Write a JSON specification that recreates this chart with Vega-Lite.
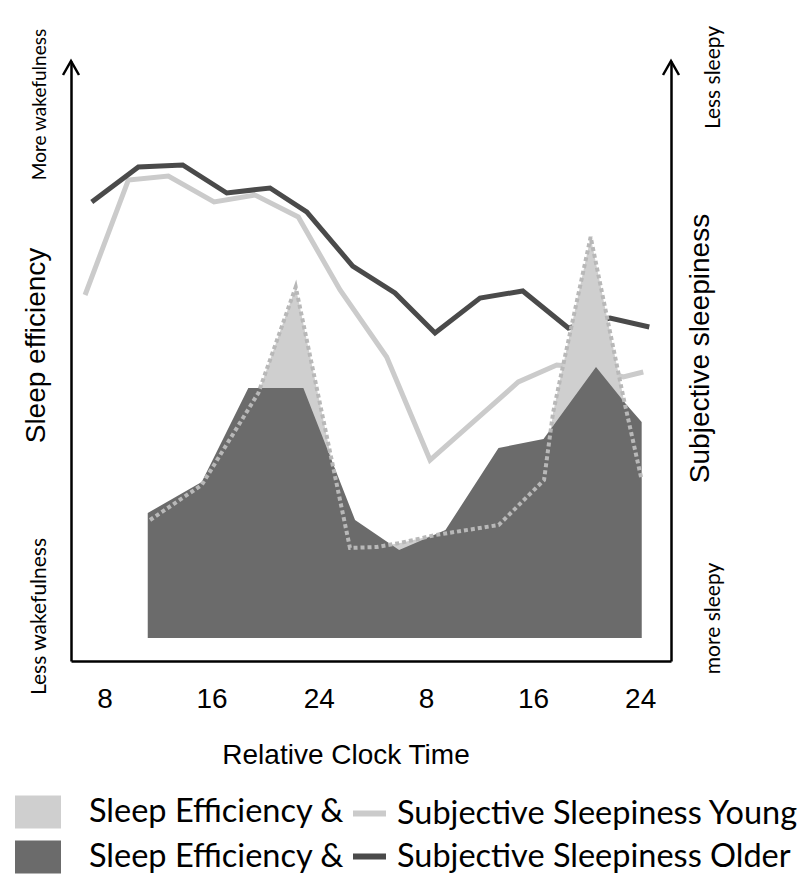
{
  "$schema": "https://vega.github.io/schema/vega-lite/v6.json",
  "autosize": {"type": "none"},
  "width": 600,
  "height": 600,
  "padding": {"left": 71, "top": 61, "right": 141, "bottom": 222},
  "background": "white",
  "datasets": {
    "efficiency": [
      {"group": "Young", "hour": 11.4, "eff": 141},
      {"group": "Young", "hour": 15.26, "eff": 176},
      {"group": "Young", "hour": 19.49, "eff": 268},
      {"group": "Young", "hour": 22.28, "eff": 374},
      {"group": "Young", "hour": 26.33, "eff": 113},
      {"group": "Young", "hour": 28.33, "eff": 114},
      {"group": "Young", "hour": 30.07, "eff": 118},
      {"group": "Young", "hour": 32.72, "eff": 126},
      {"group": "Young", "hour": 37.44, "eff": 136},
      {"group": "Young", "hour": 40.82, "eff": 181},
      {"group": "Young", "hour": 41.49, "eff": 248},
      {"group": "Young", "hour": 42.01, "eff": 281},
      {"group": "Young", "hour": 44.3, "eff": 424},
      {"group": "Young", "hour": 46.74, "eff": 264},
      {"group": "Young", "hour": 48.11, "eff": 181},
      {"group": "Older", "hour": 11.23, "eff": 148},
      {"group": "Older", "hour": 15.26, "eff": 179},
      {"group": "Older", "hour": 18.74, "eff": 273},
      {"group": "Older", "hour": 22.85, "eff": 273},
      {"group": "Older", "hour": 26.71, "eff": 141},
      {"group": "Older", "hour": 30.0, "eff": 111},
      {"group": "Older", "hour": 33.46, "eff": 131},
      {"group": "Older", "hour": 37.42, "eff": 213},
      {"group": "Older", "hour": 40.78, "eff": 222},
      {"group": "Older", "hour": 44.7, "eff": 294},
      {"group": "Older", "hour": 46.87, "eff": 258},
      {"group": "Older", "hour": 48.11, "eff": 239}
    ],
    "sleepiness": [
      {"cohort": "young", "hour": 6.55, "sleepiness": 366},
      {"cohort": "young", "hour": 9.78, "sleepiness": 481},
      {"cohort": "young", "hour": 12.77, "sleepiness": 485},
      {"cohort": "young", "hour": 16.18, "sleepiness": 459},
      {"cohort": "young", "hour": 19.24, "sleepiness": 466},
      {"cohort": "young", "hour": 22.47, "sleepiness": 444},
      {"cohort": "young", "hour": 25.59, "sleepiness": 371},
      {"cohort": "young", "hour": 29.07, "sleepiness": 304},
      {"cohort": "young", "hour": 32.31, "sleepiness": 201},
      {"cohort": "young", "hour": 38.9, "sleepiness": 279},
      {"cohort": "young", "hour": 41.77, "sleepiness": 296},
      {"cohort": "young", "hour": 44.25, "sleepiness": 293},
      {"cohort": "young", "hour": 46.74, "sleepiness": 284},
      {"cohort": "young", "hour": 48.23, "sleepiness": 289},
      {"cohort": "older", "hour": 7.05, "sleepiness": 459},
      {"cohort": "older", "hour": 10.53, "sleepiness": 494},
      {"cohort": "older", "hour": 13.84, "sleepiness": 496},
      {"cohort": "older", "hour": 17.13, "sleepiness": 468},
      {"cohort": "older", "hour": 20.36, "sleepiness": 473},
      {"cohort": "older", "hour": 23.1, "sleepiness": 449},
      {"cohort": "older", "hour": 26.53, "sleepiness": 395},
      {"cohort": "older", "hour": 29.69, "sleepiness": 368},
      {"cohort": "older", "hour": 32.68, "sleepiness": 328},
      {"cohort": "older", "hour": 36.04, "sleepiness": 363},
      {"cohort": "older", "hour": 39.23, "sleepiness": 370},
      {"cohort": "older", "hour": 42.63, "sleepiness": 333},
      {"cohort": "older", "hour": 45.75, "sleepiness": 343},
      {"cohort": "older", "hour": 48.68, "sleepiness": 334}
    ],
    "axisEnds": [
      {"hour": 5.5},
      {"hour": 50.3}
    ]
  },
  "config": {
    "view": {"stroke": null},
    "axis": {
      "grid": false,
      "ticks": false,
      "domainColor": "black",
      "domainWidth": 2.5,
      "labelColor": "black",
      "titleColor": "black",
      "titleFontWeight": "normal",
      "labelOverlap": false,
      "labelFlush": false
    }
  },
  "layer": [
    {
      "data": {"name": "sleepiness"},
      "mark": {"type": "line", "strokeWidth": 5},
      "encoding": {
        "x": {
          "field": "hour",
          "type": "quantitative",
          "scale": {"domain": [5.5, 50.3], "nice": false, "zero": false},
          "axis": {
            "values": [8, 16, 24, 32, 40, 48],
            "labelExpr": "'' + (datum.value > 24 ? datum.value - 24 : datum.value)",
            "labelFont": "Liberation Sans",
            "labelFontSize": 28,
            "labelPadding": 24,
            "title": "Relative Clock Time",
            "titleFont": "Liberation Sans",
            "titleFontSize": 28,
            "titleX": 274.5,
            "titleY": 94,
            "titleAlign": "center",
            "titleBaseline": "middle"
          }
        },
        "y": {
          "field": "sleepiness",
          "type": "quantitative",
          "scale": {"domain": [0, 600], "nice": false},
          "axis": {
            "orient": "right",
            "values": [43, 584],
            "labelExpr": "datum.value > 300 ? 'Less sleepy' : 'more sleepy'",
            "labelAngle": 270,
            "labelAlign": "center",
            "labelBaseline": "alphabetic",
            "labelPadding": 48,
            "labelFont": "Lato",
            "labelFontSize": 21,
            "title": "Subjective sleepiness",
            "titleFont": "Liberation Sans",
            "titleFontSize": 28,
            "titleAngle": 270,
            "titleX": 29,
            "titleY": 287,
            "titleAlign": "center",
            "titleBaseline": "middle"
          }
        },
        "stroke": {
          "field": "cohort",
          "type": "nominal",
          "scale": {"domain": ["young", "older"], "range": ["#cbcbcb", "#4a4a4a"]},
          "legend": {
            "orient": "none",
            "legendX": 279,
            "legendY": 733,
            "title": null,
            "padding": 0,
            "symbolType": "stroke",
            "symbolSize": 1089,
            "symbolStrokeWidth": 6,
            "labelExpr": "datum.label == 'young' ? 'Subjective Sleepiness Young' : 'Subjective Sleepiness Older'",
            "labelFont": "Lato",
            "labelFontSize": 32.5,
            "labelColor": "black",
            "labelOffset": 8,
            "labelLimit": 600,
            "rowPadding": 7
          }
        }
      }
    },
    {
      "data": {"name": "efficiency"},
      "encoding": {
        "x": {
          "field": "hour",
          "type": "quantitative",
          "scale": {"domain": [5.5, 50.3], "nice": false, "zero": false},
          "axis": {
            "values": [8, 16, 24, 32, 40, 48],
            "labelExpr": "'' + (datum.value > 24 ? datum.value - 24 : datum.value)",
            "labelFont": "Liberation Sans",
            "labelFontSize": 28,
            "labelPadding": 24,
            "title": "Relative Clock Time",
            "titleFont": "Liberation Sans",
            "titleFontSize": 28,
            "titleX": 274.5,
            "titleY": 94,
            "titleAlign": "center",
            "titleBaseline": "middle"
          }
        },
        "y": {
          "field": "eff",
          "type": "quantitative",
          "scale": {"domain": [0, 600], "nice": false},
          "axis": {
            "orient": "left",
            "values": [45, 557],
            "labelExpr": "datum.value > 300 ? 'More wakefulness' : 'Less wakefulness'",
            "labelAngle": 270,
            "labelAlign": "center",
            "labelBaseline": "alphabetic",
            "labelPadding": 26,
            "labelFont": "Lato",
            "labelFontSize": {"condition": {"test": "datum.value > 300", "value": 19}, "value": 21},
            "title": "Sleep efficiency",
            "titleFont": "Liberation Sans",
            "titleFontSize": 28,
            "titleAngle": 270,
            "titleX": -35,
            "titleY": 284,
            "titleAlign": "center",
            "titleBaseline": "middle"
          }
        }
      },
      "layer": [
        {
          "transform": [{"filter": "datum.group == 'Young'"}],
          "mark": {"type": "area", "opacity": 1},
          "encoding": {
            "y2": {"datum": 23},
            "fill": {
              "field": "group",
              "type": "nominal",
              "scale": {"domain": ["Young", "Older"], "range": ["#cfcfcf", "#6b6b6b"]},
              "legend": {
                "orient": "none",
                "legendX": -57,
                "legendY": 727,
                "title": null,
                "padding": 0,
                "symbolType": "M-1,-0.717H1V0.717H-1Z",
                "symbolSize": 2116,
                "labelExpr": "'Sleep Efficiency &'",
                "labelFont": "Lato",
                "labelFontSize": 32.5,
                "labelColor": "black",
                "labelOffset": 27,
                "labelLimit": 600,
                "rowPadding": 4,
                "encode": {
                  "symbols": {
                    "update": {
                      "stroke": {"signal": "datum.value === 'Young' ? '#e4e4e4' : 'transparent'"},
                      "strokeWidth": {"value": 3},
                      "strokeDash": {"value": [3, 2]}
                    }
                  }
                }
              }
            }
          }
        },
        {
          "transform": [{"filter": "datum.group == 'Older'"}],
          "mark": {"type": "area", "opacity": 1},
          "encoding": {
            "y2": {"datum": 23},
            "fill": {
              "field": "group",
              "type": "nominal",
              "scale": {"domain": ["Young", "Older"], "range": ["#cfcfcf", "#6b6b6b"]}
            }
          }
        },
        {
          "transform": [{"filter": "datum.group == 'Young'"}],
          "mark": {"type": "line", "stroke": "#b8b8b8", "strokeWidth": 4, "strokeDash": [4, 3]}
        }
      ]
    },
    {
      "data": {"name": "axisEnds"},
      "mark": {"type": "point", "shape": "M-0.57,1L0,0L0.57,1", "filled": false, "fill": "transparent", "stroke": "black", "strokeWidth": 2.5, "size": 784, "opacity": 1},
      "encoding": {
        "x": {"field": "hour", "type": "quantitative", "scale": {"domain": [5.5, 50.3], "nice": false, "zero": false}},
        "y": {"datum": 600, "scale": {"domain": [0, 600], "nice": false}, "axis": null}
      }
    }
  ],
  "resolve": {"scale": {"y": "independent"}}
}
